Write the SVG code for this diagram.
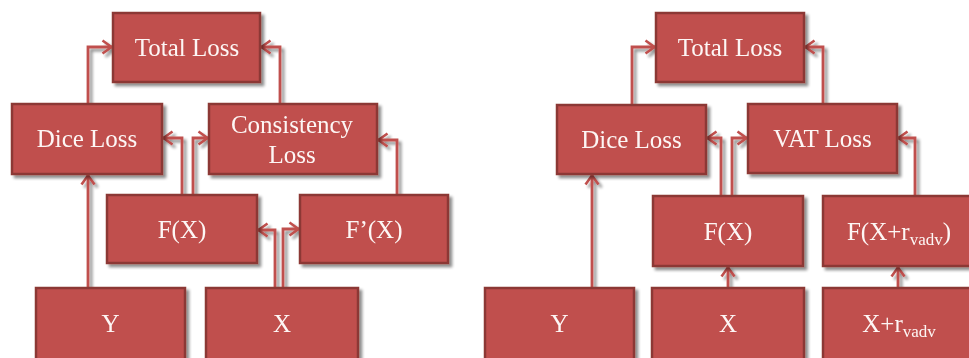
<svg xmlns="http://www.w3.org/2000/svg" width="969" height="358" viewBox="0 0 969 358">
<defs>
<filter id="sh" x="-10%" y="-10%" width="130%" height="140%">
<feGaussianBlur in="SourceAlpha" stdDeviation="1.8"/>
<feOffset dx="3" dy="3" result="b"/>
<feComponentTransfer><feFuncA type="linear" slope="0.45"/></feComponentTransfer>
<feMerge><feMergeNode/><feMergeNode in="SourceGraphic"/></feMerge>
</filter>
<marker id="ar" viewBox="0 0 12 16" refX="11" refY="8" markerWidth="12" markerHeight="16" markerUnits="userSpaceOnUse" orient="auto">
<path d="M1.5,1.5 L10.5,8 L1.5,14.5" fill="none" stroke="#c0504d" stroke-width="2.6"/>
</marker>
</defs>
<style>
.box{fill:#c0504d;stroke:#8c3836;stroke-width:2.5}
.t{font-family:"Liberation Serif","Times New Roman",serif;font-size:25px;fill:#fdf6f5;text-anchor:middle}
.c{fill:none;stroke:#c0504d;stroke-width:2.8;marker-end:url(#ar)}
</style>
<rect width="969" height="358" fill="#ffffff"/>
<g id="connectors" filter="url(#sh)">
<path class="c" d="M88,104 V47 H112"/>
<path class="c" d="M280,104 V47 H261"/>
<path class="c" d="M182,195 V138 H163"/>
<path class="c" d="M193,195 V138 H208"/>
<path class="c" d="M397,195 V140 H378"/>
<path class="c" d="M88,288 V175"/>
<path class="c" d="M275,288 V230 H258"/>
<path class="c" d="M283,288 V229 H299"/>
<path class="c" d="M632,105 V47 H655"/>
<path class="c" d="M823,104 V47 H805"/>
<path class="c" d="M721,196 V138 H707"/>
<path class="c" d="M732,196 V138 H747"/>
<path class="c" d="M915,196 V138 H898"/>
<path class="c" d="M592,288 V175"/>
<path class="c" d="M728,288 V267"/>
<path class="c" d="M898,288 V267"/>
</g>
<g id="l_total" filter="url(#sh)"><rect class="box" x="113" y="13" width="147" height="69"/><text class="t" x="187" y="56">Total Loss</text></g>
<g id="l_dice" filter="url(#sh)"><rect class="box" x="12" y="104" width="150" height="70"/><text class="t" x="87" y="147">Dice Loss</text></g>
<g id="l_cons" filter="url(#sh)"><rect class="box" x="209" y="104" width="168" height="70"/><text class="t" x="292" y="133">Consistency</text><text class="t" x="292" y="163">Loss</text></g>
<g id="l_fx" filter="url(#sh)"><rect class="box" x="107" y="195" width="150" height="68"/><text class="t" x="182" y="238">F(X)</text></g>
<g id="l_fpx" filter="url(#sh)"><rect class="box" x="300" y="195" width="148" height="68"/><text class="t" x="374" y="238">F’(X)</text></g>
<g id="l_y" filter="url(#sh)"><rect class="box" x="36" y="288" width="149" height="76"/><text class="t" x="110.5" y="332">Y</text></g>
<g id="l_x" filter="url(#sh)"><rect class="box" x="206" y="288" width="152" height="76"/><text class="t" x="282" y="332">X</text></g>
<g id="r_total" filter="url(#sh)"><rect class="box" x="656" y="13" width="148" height="69"/><text class="t" x="730" y="56">Total Loss</text></g>
<g id="r_dice" filter="url(#sh)"><rect class="box" x="557" y="105" width="149" height="69"/><text class="t" x="631.5" y="148">Dice Loss</text></g>
<g id="r_vat" filter="url(#sh)"><rect class="box" x="748" y="104" width="149" height="69"/><text class="t" x="822.5" y="147">VAT Loss</text></g>
<g id="r_fx" filter="url(#sh)"><rect class="box" x="653" y="196" width="150" height="70"/><text class="t" x="728" y="240">F(X)</text></g>
<g id="r_fxr" filter="url(#sh)"><rect class="box" x="823" y="196" width="150" height="70"/><text class="t" x="899" y="240">F(X+r<tspan font-size="17" dy="5">vadv</tspan><tspan dy="-5">)</tspan></text></g>
<g id="r_y" filter="url(#sh)"><rect class="box" x="485" y="288" width="149" height="76"/><text class="t" x="559.5" y="332">Y</text></g>
<g id="r_x" filter="url(#sh)"><rect class="box" x="652" y="288" width="152" height="76"/><text class="t" x="728" y="332">X</text></g>
<g id="r_xr" filter="url(#sh)"><rect class="box" x="823" y="288" width="150" height="76"/><text class="t" x="899" y="332">X+r<tspan font-size="17" dy="5">vadv</tspan></text></g>
</svg>
